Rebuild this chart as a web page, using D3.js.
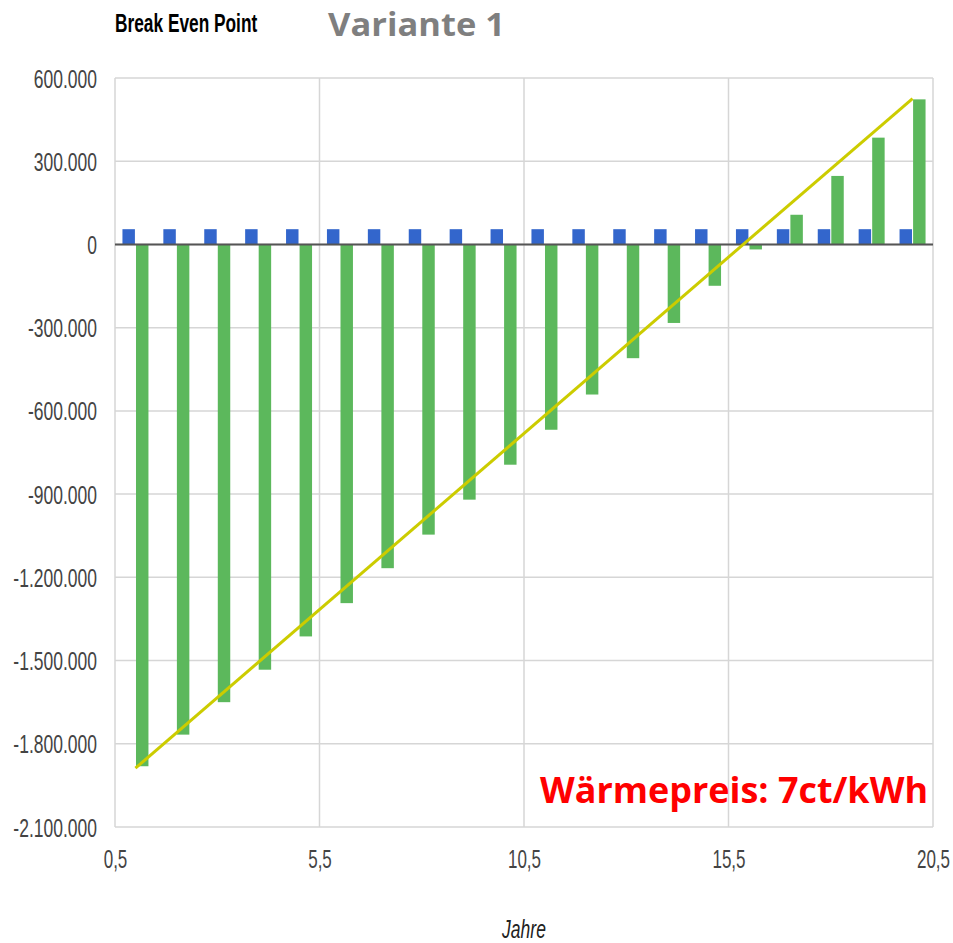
<!DOCTYPE html>
<html>
<head>
<meta charset="utf-8">
<style>
body { margin: 0; background: #fff; }
svg { display: block; }
</style>
</head>
<body>
<script src="https://cdn.jsdelivr.net/npm/d3@7"></script>
<script>

// Jahre 1..20
var years = [1, 2, 3, 4, 5, 6, 7, 8, 9, 10, 11, 12, 13, 14, 15, 16, 17, 18, 19, 20];

// small blue series (constant)
var blueValues = [55000, 55000, 55000, 55000, 55000, 55000, 55000, 55000, 55000, 55000,
                  55000, 55000, 55000, 55000, 55000, 55000, 55000, 55000, 55000, 55000];

// cumulated balance (green)
var greenValues = [-1881000, -1767000, -1650000, -1533000, -1413000, -1293000, -1167000, -1046000, -920000, -794000,
                   -668000, -541000, -410000, -283000, -149000, -18000, 107000, 247000, 385000, 523000];

// trend line end points
var trendYears = [1, 20];
var trendValues = [-1888000, 526000];

var yTicks = [600000, 300000, 0, -300000, -600000, -900000, -1200000, -1500000, -1800000, -2100000];
var xTicks = [0.5, 5.5, 10.5, 15.5, 20.5];

var width = 953,
    height = 943;

var de = d3.formatLocale({decimal: ",", thousands: ".", grouping: [3], currency: ["", " €"], minus: "-"});
var fmtY = de.format(",.0f"),
    fmtX = de.format(".1f");

var x = d3.scaleLinear().domain([0.5, 20.5]).range([115, 933]);
var y = d3.scaleLinear().domain([-2100000, 600000]).range([827, 78]);

var inner = d3.scaleBand().domain(["blue", "green"]).range([-13, 13]).paddingInner(0.08);

var svg = d3.select("body").append("svg")
    .attr("width", width)
    .attr("height", height);

// grid
svg.append("g")
  .selectAll("line")
    .data(yTicks)
  .enter().append("line")
    .attr("x1", x(0.5)).attr("x2", x(20.5))
    .attr("y1", function(d) { return y(d); })
    .attr("y2", function(d) { return y(d); })
    .style("stroke", "#d6d6d6")
    .style("stroke-width", 1.5);

svg.append("g")
  .selectAll("line")
    .data(xTicks)
  .enter().append("line")
    .attr("y1", y(600000)).attr("y2", y(-2100000))
    .attr("x1", function(d) { return x(d); })
    .attr("x2", function(d) { return x(d); })
    .style("stroke", "#d6d6d6")
    .style("stroke-width", 1.5);

// bars
svg.append("g")
  .selectAll("rect")
    .data(years)
  .enter().append("rect")
    .attr("x", function(d) { return x(d) + inner("blue"); })
    .attr("width", inner.bandwidth())
    .attr("y", function(d, i) { return y(Math.max(0, blueValues[i])); })
    .attr("height", function(d, i) { return Math.abs(y(blueValues[i]) - y(0)); })
    .style("fill", "#3366cc");

svg.append("g")
  .selectAll("rect")
    .data(years)
  .enter().append("rect")
    .attr("x", function(d) { return x(d) + inner("green"); })
    .attr("width", inner.bandwidth())
    .attr("y", function(d, i) { return y(Math.max(0, greenValues[i])); })
    .attr("height", function(d, i) { return Math.abs(y(greenValues[i]) - y(0)); })
    .style("fill", "#5cb85c");

// zero line
svg.append("line")
    .attr("x1", x(0.5)).attr("x2", x(20.5))
    .attr("y1", y(0)).attr("y2", y(0))
    .style("stroke", "#555")
    .style("stroke-width", 2);

// trend
var line = d3.line()
    .x(function(d) { return x(d[0]); })
    .y(function(d) { return y(d[1]); });

svg.append("path")
    .datum(d3.zip(trendYears, trendValues))
    .attr("d", line)
    .style("fill", "none")
    .style("stroke", "#cccc00")
    .style("stroke-width", 3);

// axes
var yAxis = svg.append("g")
    .attr("transform", "translate(" + x(0.5) + ",0)")
    .call(d3.axisLeft(y).tickValues(yTicks).tickFormat(fmtY).tickSize(0));
yAxis.select(".domain").remove();
yAxis.selectAll("text")
    .attr("x", 0)
    .attr("dy", null)
    .attr("transform", "translate(-18,9) scale(1,1.45)")
    .style("font", "17.5px 'Liberation Sans', Arial, sans-serif")
    .style("fill", "#444");

var xAxis = svg.append("g")
    .attr("transform", "translate(0," + y(-2100000) + ")")
    .call(d3.axisBottom(x).tickValues(xTicks).tickFormat(fmtX).tickSize(0));
xAxis.select(".domain").remove();
xAxis.selectAll("text")
    .attr("y", 0)
    .attr("dy", null)
    .attr("transform", "translate(0,41) scale(1,1.55)")
    .style("font", "17px 'Liberation Sans', Arial, sans-serif")
    .style("fill", "#444");

// titles
svg.append("text")
    .attr("transform", "translate(115,32) scale(1,1.5)")
    .style("font", "bold 17.3px 'Liberation Sans', Arial, sans-serif")
    .style("fill", "#000")
    .text("Break Even Point");

svg.append("text")
    .attr("x", 328).attr("y", 35.5)
    .attr("textLength", 177)
    .attr("lengthAdjust", "spacingAndGlyphs")
    .style("font", "bold 33px 'Open Sans', sans-serif")
    .style("fill", "#7f7f7f")
    .text("Variante 1");

svg.append("text")
    .attr("x", 540).attr("y", 803)
    .attr("textLength", 388)
    .attr("lengthAdjust", "spacingAndGlyphs")
    .style("font", "bold 36px 'Open Sans', sans-serif")
    .style("fill", "#ff0000")
    .text("Wärmepreis: 7ct/kWh");

svg.append("text")
    .attr("transform", "translate(524,938) scale(1,1.45)")
    .attr("text-anchor", "middle")
    .style("font", "italic 17.5px 'Liberation Sans', Arial, sans-serif")
    .style("fill", "#222")
    .text("Jahre");

</script>
</body>
</html>
